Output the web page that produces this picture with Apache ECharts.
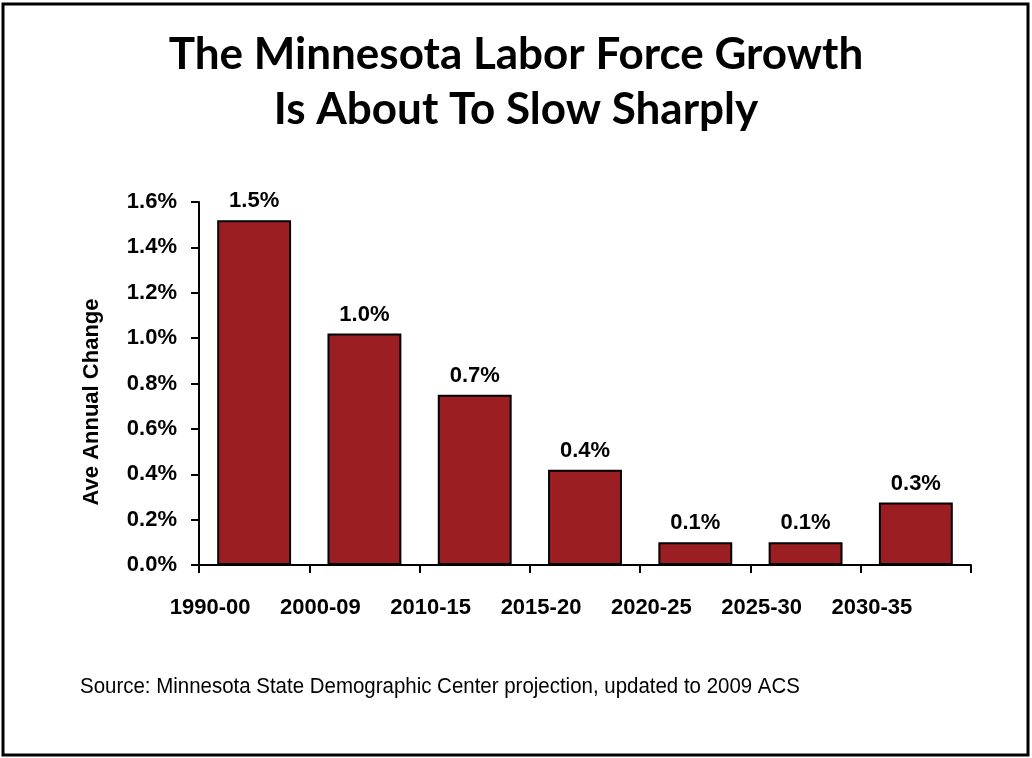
<!DOCTYPE html>
<html>
<head>
<meta charset="utf-8">
<script src="https://cdn.jsdelivr.net/npm/echarts@6/dist/echarts.min.js"></script>
<style>
  html, body { margin: 0; padding: 0; background: #fff; }
  #chart { width: 1032px; height: 758px; }
</style>
</head>
<body>
<div id="chart"></div>
<script>
// periods on the x axis
const periods = ['1990-00', '2000-09', '2010-15', '2015-20', '2020-25', '2025-30', '2030-35']
// average annual change, percent
const changes = [1.52, 1.02, 0.75, 0.42, 0.1, 0.1, 0.275]
const barLabels = ['1.5%', '1.0%', '0.7%', '0.4%', '0.1%', '0.1%', '0.3%']

const myChart = echarts.init(document.getElementById('chart'))

const option = {
  animation: false,
  backgroundColor: '#fff',
  title: {
    text: 'The Minnesota Labor Force Growth\nIs About To Slow Sharply',
    left: 'center',
    top: 22,
    textStyle: {
      fontFamily: 'Lato',
      fontWeight: 'bold',
      fontSize: 44,
      lineHeight: 55,
      color: '#000'
    }
  },
  graphic: [
    {
      type: 'rect',
      shape: { x: 3, y: 4, width: 1025, height: 751 },
      style: { fill: 'none', stroke: '#000', lineWidth: 3 }
    },
    {
      // y axis title
      type: 'text',
      x: 92,
      y: 402,
      rotation: Math.PI / 2,
      style: {
        text: 'Ave Annual Change',
        font: 'bold 22px "Liberation Sans", Arial',
        fill: '#000',
        align: 'center',
        verticalAlign: 'middle'
      }
    },
    {
      type: 'text',
      x: 80,
      y: 687,
      scaleX: 0.93,
      style: {
        text: 'Source: Minnesota State Demographic Center projection, updated to 2009 ACS',
        font: '22px "Liberation Sans", Arial',
        fill: '#000',
        verticalAlign: 'middle'
      }
    }
  ],
  grid: { left: 199, right: 61, top: 202, bottom: 193 },
  xAxis: {
    type: 'category',
    data: periods,
    axisLine: { lineStyle: { color: '#000', width: 2 } },
    axisTick: { show: true, alignWithLabel: false, length: 8, lineStyle: { color: '#000', width: 2 } },
    axisLabel: {
      margin: 32,
      // labels sit left of the bar centres in the original
      padding: [0, 88, 0, 0],
      color: '#000',
      fontFamily: 'Liberation Sans',
      fontWeight: 'bold',
      fontSize: 22
    }
  },
  yAxis: {
    type: 'value',
    min: 0,
    max: 1.6,
    interval: 0.2,
    splitLine: { show: false },
    axisLine: { show: true, lineStyle: { color: '#000', width: 2 } },
    axisTick: { show: true, length: 8, lineStyle: { color: '#000', width: 2 } },
    axisLabel: {
      margin: 22,
      color: '#000',
      fontFamily: 'Liberation Sans',
      fontWeight: 'bold',
      fontSize: 22,
      formatter: v => v.toFixed(1) + '%'
    }
  },
  series: [
    {
      type: 'bar',
      data: changes,
      barCategoryGap: '33%',
      itemStyle: { color: '#9b1f22', borderColor: '#000', borderWidth: 2 },
      label: {
        show: true,
        position: 'top',
        distance: 8,
        color: '#000',
        fontFamily: 'Liberation Sans',
        fontWeight: 'bold',
        fontSize: 22,
        formatter: p => barLabels[p.dataIndex]
      }
    }
  ]
}

myChart.setOption(option)
</script>
</body>
</html>
